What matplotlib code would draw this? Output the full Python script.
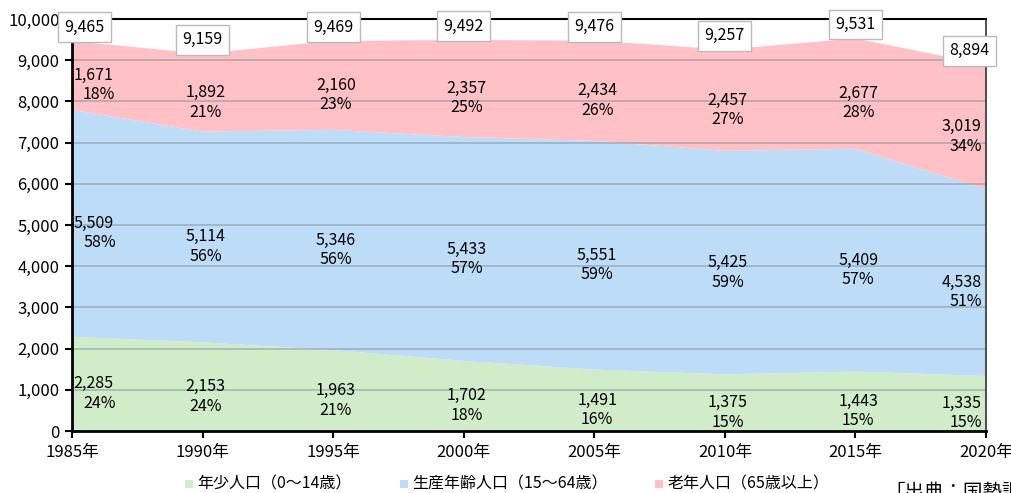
import numpy as np
import matplotlib.pyplot as plt

plt.rcParams['font.family'] = ['Noto Sans CJK JP', 'DejaVu Sans']

years = [1985, 1990, 1995, 2000, 2005, 2010, 2015, 2020]
young = [2285, 2153, 1963, 1702, 1491, 1375, 1443, 1335]
working = [5509, 5114, 5346, 5433, 5551, 5425, 5409, 4538]
elderly = [1671, 1892, 2160, 2357, 2434, 2457, 2677, 3019]
totals = [9465, 9159, 9469, 9492, 9476, 9257, 9531, 8894]
young_pct = [24, 24, 21, 18, 16, 15, 15, 15]
working_pct = [58, 56, 56, 57, 59, 59, 57, 51]
elderly_pct = [18, 21, 23, 25, 26, 27, 28, 34]

names = ['年少人口（0～14歳）', '生産年齢人口（15～64歳）', '老年人口（65歳以上）']
colors = ['#d0ecc9', '#bddcf8', '#ffc1c5']

W, H = 1011, 493
fig = plt.figure(figsize=(W / 100, H / 100), dpi=100)
ax = fig.add_axes([72 / W, (H - 431) / H, (986 - 72) / W, (431 - 19) / H])

ax.stackplot(years, young, working, elderly, colors=colors, zorder=1)
ax.set_xlim(1985, 2020)
ax.set_ylim(0, 10000)

for v in range(1000, 10000, 1000):
    ax.axhline(v, color='#7f8c99', alpha=0.55, lw=1.2, zorder=2)

ax.set_xticks(years)
ax.set_xticklabels([f'{y}年' for y in years], fontsize=12)
ax.set_yticks(range(0, 10001, 1000))
ax.set_yticklabels([f'{v:,}' for v in range(0, 10001, 1000)], fontsize=12)
ax.tick_params(axis='both', direction='out', length=5, width=1.5, color='black')
ax.tick_params(axis='x', pad=4)
ax.tick_params(axis='y', pad=4)

for s in ['left', 'bottom']:
    ax.spines[s].set_linewidth(2)
ax.spines['top'].set_linewidth(1.5)
ax.spines['right'].set_linewidth(1.2)
ax.spines['right'].set_color('#333333')


def place(i):
    if i == 0:
        return 6, 'left'
    if i == len(years) - 1:
        return -3, 'right'
    return 2, 'center'


base = np.zeros(len(years))
for vals, pcts in [(young, young_pct), (working, working_pct), (elderly, elderly_pct)]:
    for i, x in enumerate(years):
        mid = base[i] + vals[i] / 2
        dx, ha = place(i)
        ax.annotate(f'{vals[i]:,}', (x, mid), xytext=(dx - 5 if i == 0 else dx, 0),
                    textcoords='offset points', ha=ha, va='center', fontsize=11.5, zorder=5)
        ax.annotate(f'{pcts[i]}%', (x, mid), xytext=(dx + 2 if i == 0 else dx, -14),
                    textcoords='offset points', ha=ha, va='center', fontsize=11.5, zorder=5)
    base += np.array(vals)

for i, x in enumerate(years):
    dx = 0
    if i == 0:
        dx = 9
    elif i == len(years) - 1:
        dx = -12
    ax.annotate(f'{totals[i]:,}', (x, totals[i]), xytext=(dx, 10),
                textcoords='offset points', ha='center', va='center', fontsize=11.5,
                zorder=6, annotation_clip=False,
                bbox=dict(boxstyle='square,pad=0.4', fc='white', ec='#bbbbbb', lw=1))

# legend row under the axes
leg_x = [185, 400, 655]
for lx, name, c in zip(leg_x, names, colors):
    fig.patches.append(plt.Rectangle((lx / W, (H - 488) / H), 8 / W, 8 / H,
                                     transform=fig.transFigure, fc=c, ec='none'))
    fig.text((lx + 12) / W, (H - 484) / H, name, fontsize=11.5, va='center', ha='left')

fig.text(885 / W, (H - 492) / H, '「出典：国勢調査」', fontsize=14, va='center', ha='left')

fig.savefig('out.png', dpi=100)
